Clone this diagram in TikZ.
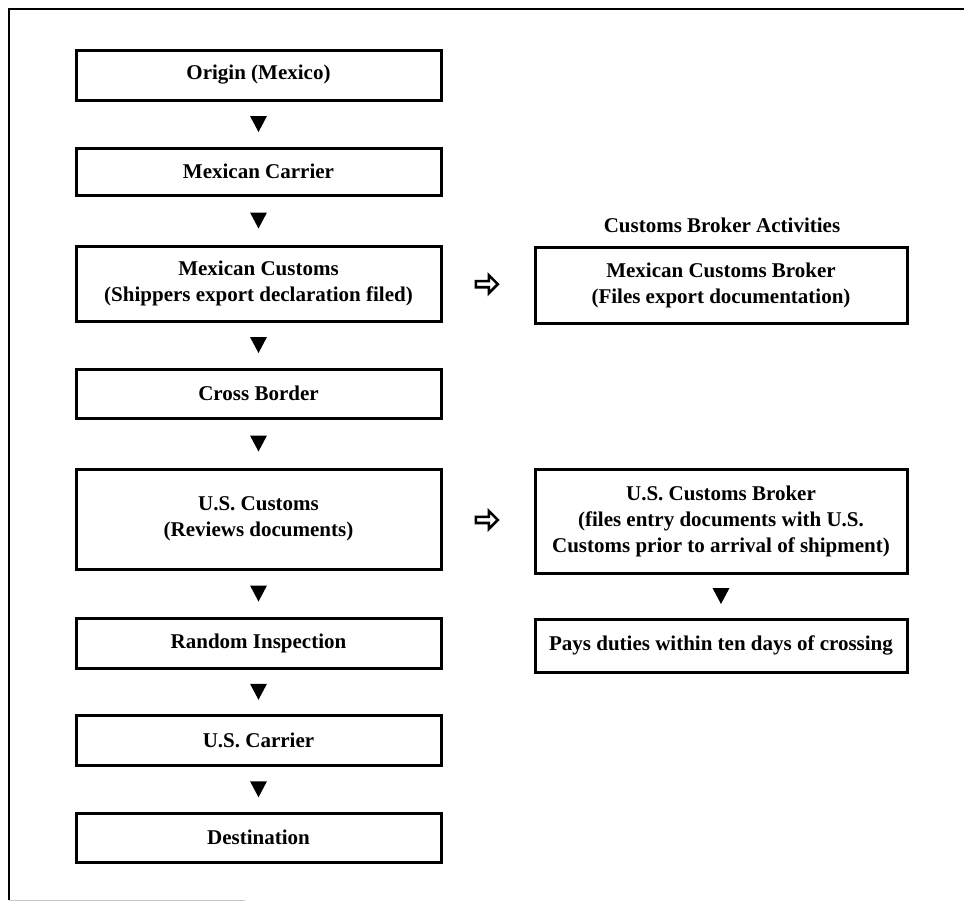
\documentclass[tikz,border=0pt]{standalone}
\usepackage{fontspec}
\setmainfont{Liberation Serif}
\usepackage{tikz}
\usetikzlibrary{calc}
\usetikzlibrary{shapes.arrows}

\tikzset{
  stepbox/.style={draw,line width=3pt,minimum width=365pt,inner sep=0pt,align=center,
    font=\bfseries\fontsize{21}{26}\selectfont},
  brokerbox/.style={stepbox,minimum width=372pt},
  hollow/.style={single arrow,draw,fill=white,line width=2.6pt,minimum height=22pt,
    minimum width=18pt,single arrow head extend=2.5pt,inner sep=0pt},
}

\begin{document}
\begin{tikzpicture}[x=1pt,y=-1pt]
        \useasboundingbox (0,0) rectangle (964,902);

        % outer frame
        \draw[line width=1.4pt] (9,900) -- (9,9) -- (964,9);
        \draw[gray!45,line width=1pt] (9,900.5) -- (245,900.5);

        % shipment steps
        \node[stepbox,minimum height=50pt] (origin) at (258.5,75) {Origin (Mexico)};
        \node[stepbox,minimum height=47pt] (mcarrier) at (258.5,171.5) {Mexican Carrier};
        \node[stepbox,minimum height=75pt] (mcustoms) at (258.5,283.5) {Mexican Customs\\(Shippers export declaration filed)};
        \node[stepbox,minimum height=49pt] (cross) at (258.5,393.5) {Cross Border};
        \node[stepbox,minimum height=100pt] (uscustoms) at (258.5,519) {U.S. Customs\\(Reviews documents)};
        \node[stepbox,minimum height=50pt] (random) at (258.5,643) {Random Inspection};
        \node[stepbox,minimum height=50pt] (uscarrier) at (258.5,740.5) {U.S. Carrier};
        \node[stepbox,minimum height=49pt] (dest) at (258.5,837.5) {Destination};

        % broker activities
        \node[font=\bfseries\fontsize{21}{26}\selectfont] (title) at (722,225) {Customs Broker Activities};
        \node[brokerbox,minimum height=76pt] (mbroker) at (721,285) {Mexican Customs Broker\\(Files export documentation)};
        \node[brokerbox,minimum height=104pt] (usbroker) at (721,521) {U.S. Customs Broker\\(files entry documents with U.S.\\Customs prior to arrival of shipment)};
        \node[brokerbox,minimum height=53pt] (pays) at (721,645.5) {Pays duties within ten days of crossing};

        % down markers
        \foreach \a/\b in {origin/mcarrier,mcarrier/mcustoms,mcustoms/cross,cross/uscustoms,
            uscustoms/random,random/uscarrier,uscarrier/dest,usbroker/pays}
          \fill ($(\a.south)!0.5!(\b.north)$) ++(-8.5,-8) -- ++(17,0) -- ++(-8.5,16) -- cycle;

        % side markers
        \node[hollow] (h1) at ($(mcustoms.east)!0.47!(mbroker.west)$) {};
        \node[hollow] (h2) at ($(uscustoms.east)!0.47!(usbroker.west)$) {};
    \end{tikzpicture}
\end{document}
